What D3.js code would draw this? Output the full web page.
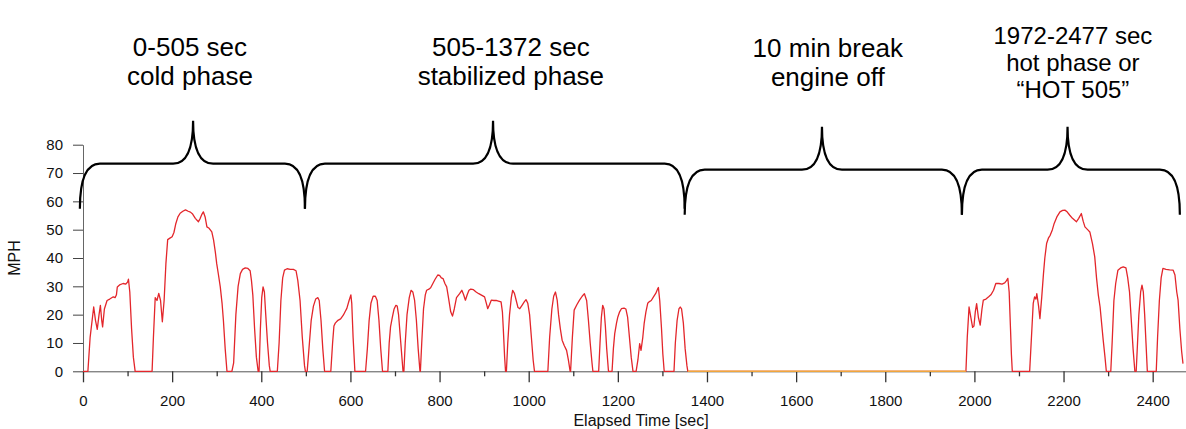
<!DOCTYPE html>
<html><head><meta charset="utf-8">
<script src="https://cdn.jsdelivr.net/npm/d3@7"></script>
<style>
html,body{margin:0;padding:0;background:#fff;}
svg{display:block;font-family:"Liberation Sans",Arial,sans-serif;}
</style></head><body>
<svg id="chart" width="1186" height="429"></svg>
<script>
// ---- data: [elapsed seconds, mph] ----
const coldPhase = [
[0,0],[11,0],[16,12],[24,22.7],[28,18],[32,14.8],[36,20],[39,23.3],[42,18],[44,15.7],[48,22],[54,25],[60,25.5],[68,26.3],[72,26],[75,27],[77,29.8],[82,30.5],[90,31],[96,30.8],[100,31.5],[102,32.5],[105,28],[109,15],[113,5],[117,0],
[155,0],[158,12],[162,26],[166,25],[170,27.5],[174,25],[178,17.5],[182,25],[186,38],[190,46.5],[195,47],[200,47.5],[204,49],[208,52],[213,54.5],[218,55.8],[224,56.5],[230,57],[236,56.5],[241,56.2],[246,55.5],[252,54],[259,52.8],[263,54],[267,55.5],[270,56.3],[274,54.5],[278,51],[283,50.5],[289,49.2],[293,46.3],[297,42],[300,38],[304,34],[308,29.8],[312,24],[315,18],[319,8],[323,0],
[334,0],[338,3],[343,20],[348,30],[353,34.5],[358,36],[364,36.5],[370,36.3],[375,35.5],[378,32],[381,27],[385,15],[389,5],[393,0],
[395,0],[398,15],[401,26],[404,29.8],[407,28],[410,20],[414,10],[418,2],[420,0],
[436,0],[440,10],[444,25],[448,33],[452,35.7],[458,36.2],[465,36],[472,36],[478,35.5],[482,32],[487,25],[492,12],[497,2],[499,0]
];
const stabilizedPhase = [
[503,0],[507,8],[512,18],[517,23],[522,25.5],[527,26],[530,25],[534,18],[538,8],[542,0],
[556,0],[560,10],[563,16],[566,17],[572,18],[578,18.5],[584,19.8],[588,21],[592,22.2],[597,25],[601,27],[603,24],[606,12],[610,0],
[634,0],[638,8],[642,18],[646,24],[651,26.5],[656,26.5],[660,25],[664,18],[668,8],[672,0],
[684,0],[687,10],[690,15.7],[694,19],[698,22],[702,23.3],[705,23],[708,20],[712,12],[716,4],[718,0],
[720,0],[723,10],[727,20],[732,26],[736,28.6],[740,28],[744,25],[748,18],[752,8],[756,0],
[757,0],[760,10],[764,22],[768,27],[771,28.6],[776,29],[780,29.5],[785,31],[790,32.5],[796,34],[800,33.9],[804,33],[808,32.7],[812,31],[816,29.8],[820,26],[825,21],[829,19.5],[833,22],[838,26],[845,27.4],[850,28.6],[854,27],[858,25.1],[862,27],[866,28.6],[870,29],[876,28.8],[882,28],[888,27.4],[895,26.8],[901,26.3],[905,24],[908,22.1],[912,23.5],[916,25.1],[922,25],[927,25],[932,24.8],[938,24.5],[941,21],[943,15],[946,5],[948,0],
[950,0],[953,10],[957,20],[961,26],[964,28.6],[968,27.5],[972,25],[976,22.5],[980,22.1],[985,23.3],[990,24.5],[994,25.3],[998,24],[1002,20],[1006,12],[1010,4],[1013,0],
[1043,0],[1047,12],[1052,22],[1056,26.5],[1060,28],[1064,25],[1067,20],[1071,15],[1075,11],[1080,9],[1085,7.4],[1089,4],[1093,0],
[1094,0],[1098,12],[1102,21.6],[1108,23.5],[1114,25.1],[1120,26.5],[1125,27.4],[1130,25],[1134,18],[1138,10],[1142,3],[1144,0],
[1157,0],[1160,10],[1163,19],[1166,23.3],[1169,22],[1172,16],[1175,8],[1179,0],
[1187,0],[1190,8],[1193,13.3],[1197,17],[1200,19.2],[1204,21],[1208,22.1],[1214,22.3],[1218,22],[1222,19],[1226,12],[1230,5],[1234,0],
[1241,0],[1245,4],[1249,9.8],[1252,7.4],[1256,12],[1259,16.8],[1263,21],[1267,24],[1270,24.5],[1275,25],[1280,26.3],[1285,27.5],[1289,29],[1291,29.6],[1294,25],[1298,15],[1301,6],[1304,0],
[1326,0],[1329,10],[1333,18],[1337,22],[1340,22.7],[1343,22],[1347,17],[1351,8],[1355,2],[1357,0]
];
const breakPhase = [[1357,0],[1981,0]];
const hotPhase = [
[1981,0],[1984,12],[1988,22.7],[1992,19],[1996,15.5],[1999,16],[2002,21],[2005,23.9],[2009,19],[2013,16.3],[2017,22],[2020,25.1],[2026,25.5],[2032,26.3],[2037,27],[2043,28.6],[2048,31],[2055,31],[2062,30.8],[2068,31.2],[2072,32],[2075,32.8],[2078,28],[2081,15],[2083,6],[2085,0],
[2124,0],[2128,12],[2132,24],[2135,26.3],[2138,25.5],[2140,27.4],[2144,23],[2147,18.6],[2151,26],[2155,34.5],[2158,40],[2162,45.1],[2166,47],[2170,48],[2175,50],[2179,52.2],[2185,54.5],[2192,56.3],[2198,56.8],[2203,56.9],[2208,56.3],[2214,55.1],[2220,54],[2229,52.8],[2234,54],[2240,55.7],[2244,53],[2248,51],[2254,50],[2259,49.2],[2265,45],[2270,40.4],[2274,33],[2278,27],[2282,22.7],[2286,16],[2289,11],[2293,5],[2296,0],
[2306,0],[2309,10],[2313,25],[2317,31],[2322,35.7],[2328,36.5],[2334,36.9],[2340,36.5],[2344,33],[2348,28],[2352,18],[2356,8],[2360,0],
[2363,0],[2366,10],[2369,20],[2373,28],[2376,30.4],[2379,28],[2382,20],[2385,10],[2388,0],
[2408,0],[2411,12],[2415,25],[2419,33],[2423,36.3],[2430,36],[2438,35.8],[2446,35.7],[2450,34],[2454,28],[2457,25.1],[2461,15],[2465,7],[2468,2.7]
];
const xTicksMajor = [0,200,400,600,800,1000,1200,1400,1600,1800,2000,2200,2400];
const xTicksMinor = [100,300,500,700,900,1100,1300,1500,1700,1900,2100,2300];
const yTicks = [0,10,20,30,40,50,60,70,80];
const phaseLabels = [
  ["0-505 sec","cold phase"],
  ["505-1372 sec","stabilized phase"],
  ["10 min break","engine off"],
  ["1972-2477 sec","hot phase or","\u201cHOT 505\u201d"]
];
const braceStart = [-7, 498, 1350, 1972];
const bracePeak  = [247, 920, 1658, 2209];
const braceEnd   = [498, 1350, 1972, 2461];
const braceLevel = [73.3, 73.3, 71.2, 71.2];
const labelCenter = [240, 960, 1671, 2221];

// ---- layout ----
const labelBaselines = [[56,85],[56,85],[57,86],[44,71,98]];
const labelSizes = [26, 26, 26, 24];
const svg = d3.select("#chart");
const x = d3.scaleLinear().domain([0, 2477]).range([83, 1187]);
const y = d3.scaleLinear().domain([0, 80]).range([371.3, 144.7]);
const FONT = "Liberation Sans, Arial, sans-serif";

// axes
const gx = svg.append("g").attr("transform", `translate(0,${y(0)})`)
  .call(d3.axisBottom(x).tickValues(xTicksMajor).tickFormat(d3.format("d"))
    .tickSize(11).tickSizeOuter(0).tickPadding(13));
gx.selectAll("text").attr("font-size", 15).attr("fill", "#111").attr("font-family", FONT);
gx.select(".domain").attr("stroke", "#555");
gx.selectAll(".tick line").attr("stroke", "#333").attr("stroke-width", 1.3);

const gxm = svg.append("g").attr("transform", `translate(0,${y(0)})`)
  .call(d3.axisBottom(x).tickValues(xTicksMinor).tickSize(5).tickFormat(""));
gxm.select(".domain").remove();
gxm.selectAll(".tick line").attr("stroke", "#333").attr("stroke-width", 1.3);

const gy = svg.append("g").attr("transform", `translate(${x(0)},0)`)
  .call(d3.axisLeft(y).tickValues(yTicks).tickSize(10).tickSizeOuter(0).tickPadding(10));
gy.selectAll("text").attr("font-size", 15).attr("fill", "#111").attr("font-family", FONT);
gy.select(".domain").attr("stroke", "#666");
gy.selectAll(".tick line").attr("stroke", "#444");

svg.append("text").attr("transform", "translate(20,258) rotate(-90)")
  .attr("text-anchor", "middle").attr("font-size", 16).attr("fill", "#111").text("MPH");
svg.append("text").attr("x", 641).attr("y", 426)
  .attr("text-anchor", "middle").attr("font-size", 16).attr("fill", "#111").text("Elapsed Time [sec]");

// speed trace
const line = d3.line().x(d => x(d[0])).y(d => y(d[1]));
const trace = coldPhase.concat(stabilizedPhase, breakPhase, hotPhase);
svg.append("path").datum(trace).attr("d", line)
  .attr("fill", "none").attr("stroke", "#e3262b").attr("stroke-width", 1.3).attr("stroke-linejoin", "round");
svg.append("path").datum(breakPhase).attr("d", line)
  .attr("fill", "none").attr("stroke", "#f0a63c").attr("stroke-width", 1.6);

// braces
const dip = 45, rise = 43, r = 20;
function bracePath(x0, xp, x1, yh) {
  return `M${x0},${yh + dip} Q${x0},${yh} ${x0 + r},${yh} L${xp - r},${yh} Q${xp},${yh} ${xp},${yh - rise}`
       + ` Q${xp},${yh} ${xp + r},${yh} L${x1 - r},${yh} Q${x1},${yh} ${x1},${yh + dip}`;
}
svg.append("g").selectAll("path").data(braceStart).join("path")
  .attr("d", (d, i) => bracePath(x(braceStart[i]), x(bracePeak[i]), x(braceEnd[i]), y(braceLevel[i])))
  .attr("fill", "none").attr("stroke", "#000").attr("stroke-width", 2.2);

// phase labels
const lg = svg.append("g").attr("fill", "#000").attr("text-anchor", "middle");
phaseLabels.forEach((lines, i) => {
  lines.forEach((t, j) => {
    lg.append("text").attr("x", x(labelCenter[i])).attr("y", labelBaselines[i][j])
      .attr("font-size", labelSizes[i]).text(t);
  });
});
</script>
</body></html>
